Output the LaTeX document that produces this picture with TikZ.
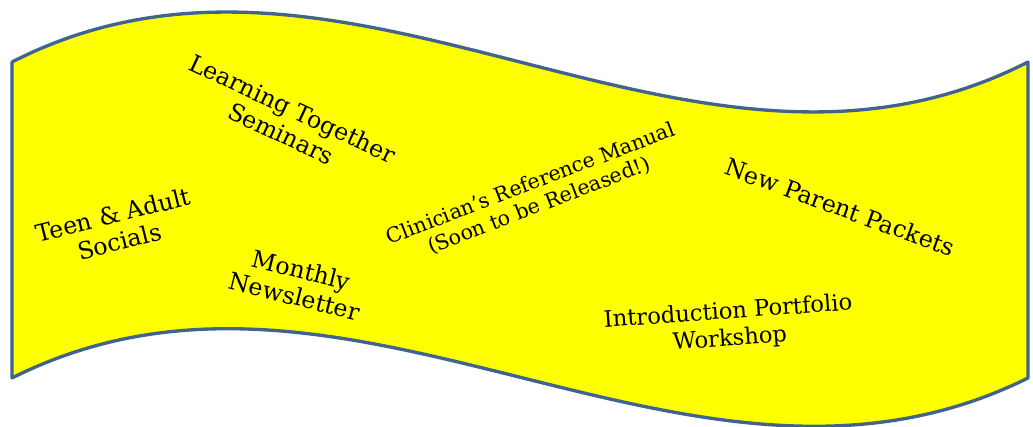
\documentclass[tikz,border=0pt]{standalone}
\usepackage{fontspec}
\setmainfont{DejaVu Serif}
\definecolor{bannerfill}{HTML}{FFFF00}
\definecolor{bannerline}{HTML}{41648F}
\begin{document}
\begin{tikzpicture}[x=0.75pt,y=-0.75pt,
  lbl/.style={align=center,inner sep=0pt,font=\fontsize{17.8}{20.5}\selectfont},
  small/.style={align=center,inner sep=0pt,font=\fontsize{15.4}{17.5}\selectfont}]
\useasboundingbox (0,0) rectangle (1033,427);
\coordinate (tl) at (12,62);
\coordinate (tr) at (1028,62);
\coordinate (br) at (1028,378);
\coordinate (bl) at (12,378);
\draw[line width=2.5pt,line join=round,draw=bannerline,fill=bannerfill]
  (tl) .. controls (350.7,-111) and (689.3,235) .. (tr)
  -- (br) .. controls (689.3,546) and (350.7,208) .. (bl) -- cycle;
\node[lbl,rotate=-25] (lts) at (287,121) {Learning Together\\Seminars};
\node[lbl,rotate=14] (tas) at (116,228) {Teen \& Adult\\Socials};
\node[lbl,rotate=-14] (mn) at (298,283) {Monthly\\Newsletter};
\node[small,rotate=21] (crm) at (535,195) {Clinician’s Reference Manual\\(Soon to be Released!)};
\node[lbl,rotate=-20] (npp) at (840,207) {New Parent Packets};
\node[lbl,rotate=4,font=\fontsize{17}{20.5}\selectfont] (ipw) at (729,326) {Introduction Portfolio\\Workshop};
\end{tikzpicture}
\end{document}
